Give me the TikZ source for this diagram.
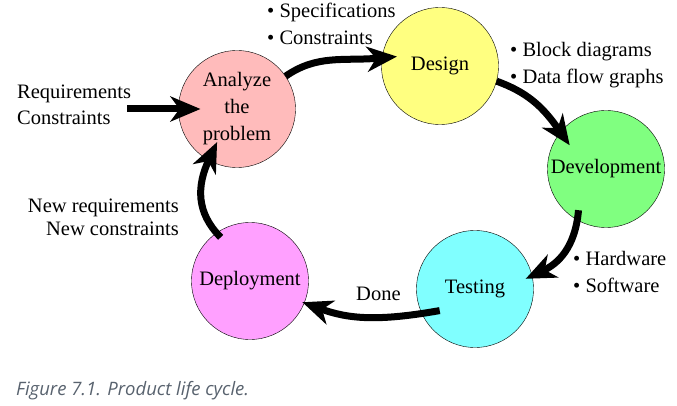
\documentclass[tikz,border=0pt]{standalone}
\usepackage{fontspec}
\setmainfont{Liberation Serif}
\newfontfamily\captionfont{Open Sans}
\usetikzlibrary{arrows.meta}

\definecolor{analyzepink}{RGB}{255,187,187}
\definecolor{designyellow}{RGB}{255,255,128}
\definecolor{developgreen}{RGB}{128,255,128}
\definecolor{testcyan}{RGB}{128,255,255}
\definecolor{deploymagenta}{RGB}{255,160,255}
\definecolor{captiongray}{RGB}{88,98,110}

\tikzset{
  stage/.style={circle, draw, thin, minimum size=117pt, inner sep=0pt, outer sep=0pt,
    align=center, font=\fontsize{20.5}{27}\selectfont},
  flow/.style={line width=7pt, -{Stealth[length=30pt, width=25pt, inset=9pt]}},
  note/.style={inner sep=0pt, font=\fontsize{20.5}{27}\selectfont},
}

\begin{document}
\begin{tikzpicture}[x=1pt, y=-1pt]
\useasboundingbox (0,0) rectangle (677,406);

% _____ Stages of the cycle
\node[stage, fill=analyzepink]   (ana) at (237,109) {Analyze\\the\\problem};
\node[stage, fill=designyellow]  (des) at (440,66)  {Design};
\node[stage, fill=developgreen]  (dev) at (606,169) {Development};
\node[stage, fill=testcyan]      (tst) at (475,289) {Testing};
\node[stage, fill=deploymagenta] (dep) at (250,281) {Deployment};

% _____ Input
\coordinate (reqin) at (127,109);
\node[note, anchor=base west] (req)  at (17,99)  {Requirements};
\node[note, anchor=base west] (con)  at (17,125) {Constraints};

\draw[flow, shorten >=-22pt] (reqin) -- (ana.west);

% _____ Cycle arrows
\draw[flow, shorten >=-15pt] (ana.34) to[out=35, in=185] (des.172);
\draw[flow, shorten >=-16pt] (des.-15) to[out=-20, in=125] (dev.141);
\draw[flow, shorten <=-10pt, shorten >=-7pt] (dev.-119) to[out=-95, in=25] (tst.13);
\draw[flow, shorten <=-18pt, shorten >=-2pt] (tst.205) to[out=190, in=-20] (dep.-22);
\draw[flow, shorten <=-6pt, shorten >=-20pt] (dep.125) to[out=135, in=245] (ana.241);

% _____ Labels
\node[note, anchor=base west] (spec) at (267,18)  {\textbullet\ Specifications};
\node[note, anchor=base west] (cstr) at (267,45)  {\textbullet\ Constraints};
\node[note, anchor=base west] (blk)  at (510,57)  {\textbullet\ Block diagrams};
\node[note, anchor=base west] (dfg)  at (510,84)  {\textbullet\ Data flow graphs};
\node[note, anchor=base west] (hw)   at (573,265) {\textbullet\ Hardware};
\node[note, anchor=base west] (sw)   at (573,292) {\textbullet\ Software};
\node[note, anchor=base west] (done) at (356,300) {Done};
\node[note, anchor=base east] (nreq) at (179,212) {New requirements};
\node[note, anchor=base east] (ncon) at (179,235) {New constraints};

% _____ Caption
\node[anchor=base west, inner sep=0pt, text=captiongray,
  font=\captionfont\itshape\fontsize{18.5}{22}\selectfont] (cap) at (16,395)
  {Figure 7.1. Product life cycle.};

\end{tikzpicture}
\end{document}
